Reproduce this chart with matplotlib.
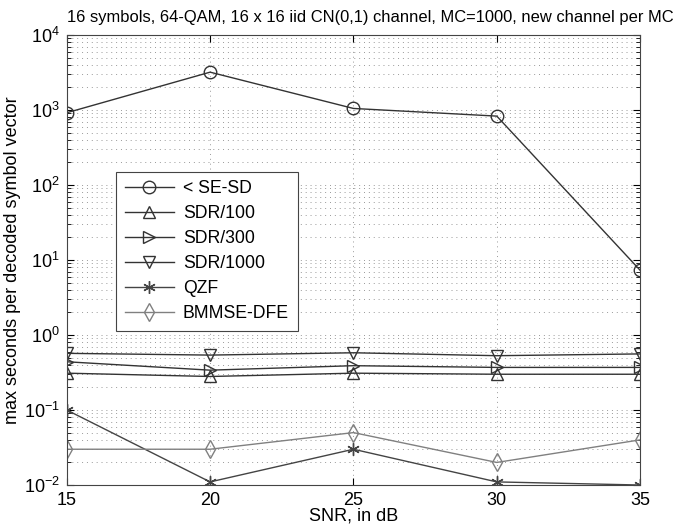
import numpy as np
import matplotlib.pyplot as plt
from matplotlib.ticker import NullFormatter

plt.rcParams['font.family'] = ['Liberation Sans', 'DejaVu Sans']
plt.rcParams['mathtext.fontset'] = 'custom'
plt.rcParams['mathtext.rm'] = 'Liberation Sans'
plt.rcParams['mathtext.it'] = 'Liberation Sans'

# data
snr = [15, 20, 25, 30, 35]
se_sd = [920, 3200, 1050, 830, 7.3]
sdr100 = [0.31, 0.28, 0.31, 0.30, 0.30]
sdr300 = [0.44, 0.34, 0.39, 0.37, 0.37]
sdr1000 = [0.57, 0.54, 0.58, 0.53, 0.56]
qzf = [0.10, 0.011, 0.030, 0.011, 0.010]
bmmse = [0.030, 0.030, 0.050, 0.020, 0.040]

labels = ['< SE-SD', 'SDR/100', 'SDR/300', 'SDR/1000', 'QZF', 'BMMSE-DFE']
series = [se_sd, sdr100, sdr300, sdr1000, qzf, bmmse]
markers = ['o', '^', '>', 'v', (6, 2, 0), 'd']
colors = ['#333333', '#333333', '#333333', '#333333', '#444444', '#808080']

fig = plt.figure(figsize=(6.81, 5.31), dpi=100)
ax = fig.add_axes([0.098, 0.0866, 0.842, 0.8474])

for y, lab, m, c in zip(series, labels, markers, colors):
    ax.plot(snr, y, marker=m, color=c, markerfacecolor='none',
            markeredgecolor=c, markersize=9, linewidth=1.0, label=lab)

ax.set_yscale('log')
ax.set_xlim(15, 35)
ax.set_ylim(1e-2, 1e4)
ax.set_xticks(snr)
decades = 10.0 ** np.arange(-2, 5)
ax.set_yticks(decades)
ax.set_yticks([d * k for d in decades[:-1] for k in range(2, 10)], minor=True)
ax.yaxis.set_minor_formatter(NullFormatter())

ax.tick_params(which='both', direction='in', top=True, right=True, labelsize=13)
ax.tick_params(which='major', length=5)
ax.tick_params(which='minor', length=3)
ax.tick_params(axis='x', pad=5)
ax.tick_params(axis='y', pad=5)
gridstyle = dict(linestyle=(0, (1, 4)), color='#999999', linewidth=0.7)
ax.grid(True, which='major', **gridstyle)
ax.grid(True, which='minor', axis='y', **gridstyle)
for s in ax.spines.values():
    s.set_color('#444444')

ax.set_xlabel('SNR, in dB', fontsize=13, labelpad=-1)
ax.set_ylabel('max seconds per decoded symbol vector', fontsize=13, labelpad=2)
fig.text(0.099, 0.967, '16 symbols, 64-QAM, 16 x 16 iid CN(0,1) channel, MC=1000, new channel per MC',
         fontsize=11.9, ha='left', va='center')

leg = ax.legend(loc='upper left', bbox_to_anchor=(0.07, 0.716), fontsize=12.7,
                fancybox=False, edgecolor='#444444', framealpha=1,
                handlelength=2.8, borderpad=0.5, labelspacing=0.45,
                handletextpad=0.5)
leg.get_frame().set_linewidth(0.8)

fig.savefig('out.png', dpi=100)
